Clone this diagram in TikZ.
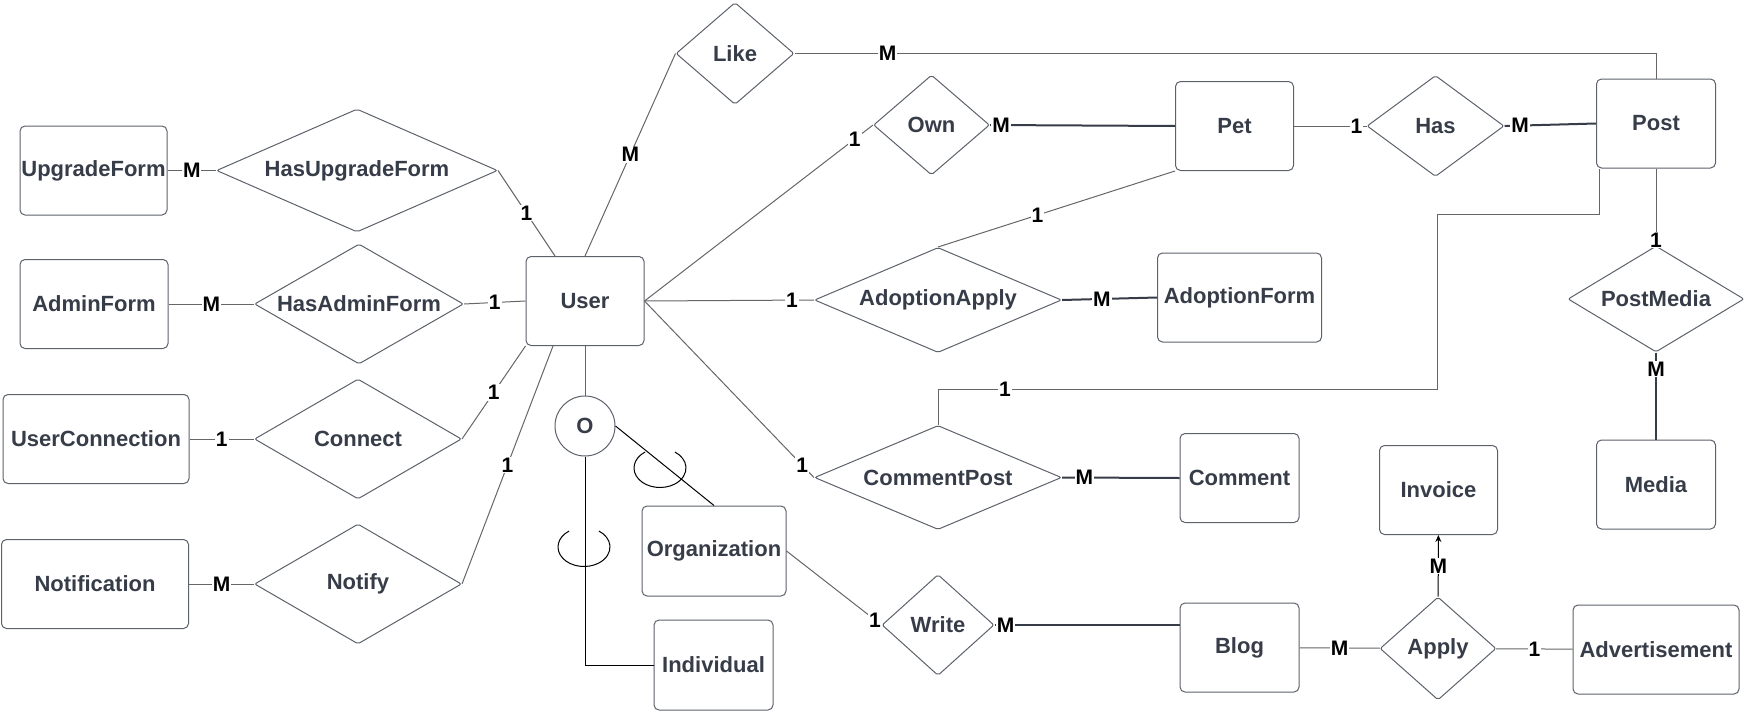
\documentclass[tikz,border=0pt]{standalone}
\usepackage{fontspec}
\setmainfont{Liberation Sans}
\usetikzlibrary{shapes.geometric,arrows.meta}
\definecolor{ink}{HTML}{363C48}
\definecolor{edge}{HTML}{5C616B}

\begin{document}
\begin{tikzpicture}[x=1pt,y=-1pt,line width=1pt,font=\fontsize{22}{26}\selectfont\bfseries,
  ent/.style={draw=edge,rounded corners=5pt,text=ink,minimum height=89pt,inner sep=0pt},
  rel/.style={draw=edge,diamond,aspect=2,rounded corners=2pt,text=ink,inner sep=0pt},
  lnk/.style={draw=black!60},
  heavy/.style={draw=ink,line width=2pt},
  card/.style={fill=white,text=black,inner sep=1pt,font=\fontsize{21}{24}\selectfont\bfseries}]
\useasboundingbox (0,0) rectangle (1747,712);
\node[ent,minimum width=147pt] (upform) at (93.5,170.5) {UpgradeForm};
\node[ent,minimum width=148pt] (adminform) at (94,304) {AdminForm};
\node[ent,minimum width=186pt] (userconn) at (96,439) {UserConnection};
\node[ent,minimum width=187pt] (notification) at (95,584) {Notification};
\node[ent,minimum width=118pt] (user) at (585,301) {User};
\node[ent,minimum width=144pt,minimum height=90pt] (org) at (714,551) {Organization};
\node[ent,minimum width=119pt,minimum height=90pt] (individual) at (713.5,665) {Individual};
\node[ent,minimum width=118pt] (pet) at (1234.5,126) {Pet};
\node[ent,minimum width=119pt] (post) at (1656,123.5) {Post};
\node[ent,minimum width=164pt] (adoptform) at (1239.5,297.5) {AdoptionForm};
\node[ent,minimum width=119pt] (comment) at (1239.5,478) {Comment};
\node[ent,minimum width=118pt] (invoice) at (1438.5,490) {Invoice};
\node[ent,minimum width=119pt] (media) at (1656,484.5) {Media};
\node[ent,minimum width=119pt] (blog) at (1239.5,647.5) {Blog};
\node[ent,minimum width=166pt] (advert) at (1656,649.5) {Advertisement};
\node[rel,minimum width=281pt,minimum height=123pt] (hasupform) at (357,170.5) {HasUpgradeForm};
\node[rel,minimum width=209pt,minimum height=120pt] (hasadmin) at (359,304) {HasAdminForm};
\node[rel,minimum width=207pt,minimum height=120pt] (connect) at (358,439) {Connect};
\node[rel,minimum width=207pt,minimum height=120pt] (notify) at (358,584) {Notify};
\node[rel,minimum width=118pt,minimum height=102pt] (like) at (735,53.5) {Like};
\node[rel,minimum width=116pt,minimum height=100pt] (own) at (931.5,125) {Own};
\node[rel,minimum width=247pt,minimum height=105pt] (adoptapply) at (938,300) {AdoptionApply};
\node[rel,minimum width=137pt,minimum height=101pt] (has) at (1435.5,126) {Has};
\node[rel,minimum width=176pt,minimum height=106pt] (postmedia) at (1656,299) {PostMedia};
\node[rel,minimum width=247pt,minimum height=104pt] (commentpost) at (938,477.5) {CommentPost};
\node[rel,minimum width=112pt,minimum height=101pt] (write) at (938,625) {Write};
\node[rel,minimum width=116pt,minimum height=103pt] (apply) at (1438,648.5) {Apply};
\node[draw=edge,circle,minimum size=60pt,inner sep=0pt,text=ink] (disj) at (585,426) {O};
\coordinate (cpbend) at (1437,389);
\coordinate (cpturn) at (1437,214);
\draw[lnk] (upform) -- node[card]{M} (hasupform);
\draw[lnk] (hasupform.east) -- node[card]{1} ([xshift=-30pt]user.north);
\draw[lnk] (user.north) -- node[card]{M} (like.west);
\draw[lnk] (adminform) -- node[card]{M} (hasadmin);
\draw[lnk] (hasadmin.east) -- node[card]{1} (user.west);
\draw[lnk] (userconn) -- node[card]{1} (connect);
\draw[lnk] (connect.east) -- node[card]{1} (user.south west);
\draw[lnk] (notification) -- node[card]{M} (notify);
\draw[lnk] (notify.east) -- node[card]{1} ([xshift=-32pt]user.south);
\draw[lnk] (user) -- (disj);
\draw[lnk,draw=black] (disj.east) -- (org.north);
\draw[lnk,draw=black] (disj.south) |- (individual.west);
\foreach \cx/\cy in {584/547,660/468}
  \draw[draw=black,shift={(\cx,\cy)}] (125:26pt and 19.5pt) arc[start angle=125,end angle=415,x radius=26pt,y radius=19.5pt];
\draw[lnk] (like.east) -| node[card,pos=.054]{M} (post.north);
\draw[lnk] (user.east) -- node[card,pos=.92]{1} (own.west);
\draw[heavy] (own.east) -- node[card,pos=.06]{M} (pet.west);
\draw[lnk] (pet.east) -- node[card,pos=.86]{1} (has.west);
\draw[heavy] (has.east) -- node[card,pos=.17]{M} (post.west);
\draw[lnk] (pet.south west) -- node[card,pos=.58]{1} (adoptapply.north);
\draw[lnk] (user.east) -- node[card,pos=.87]{1} (adoptapply.west);
\draw[heavy] (adoptapply.east) -- node[card,pos=.42]{M} (adoptform.west);
\draw[lnk] (user.east) -- node[card,pos=.93]{1} (commentpost.west);
\draw[lnk] (commentpost.north) |- node[card,pos=.567]{1} (cpbend) -- (cpturn) -| ([xshift=3pt]post.south west);
\draw[lnk] (post) -- node[card,pos=.93]{1} (postmedia);
\draw[heavy] (postmedia) -- node[card,pos=.19]{M} (media);
\draw[heavy] (commentpost.east) -- node[card,pos=.19]{M} (comment.west);
\draw[lnk] (org.east) -- node[card,pos=.93]{1} (write.west);
\draw[heavy] (write.east) -- node[card,pos=.06]{M} (write.east -| blog.west);
\draw[lnk] (blog) -- node[card]{M} (apply);
\draw[lnk] (apply) -- node[card]{1} (advert);
\draw[lnk,draw=black,-{Stealth[length=7pt,width=6pt]}] (apply) -- node[card]{M} (invoice);
\end{tikzpicture}
\end{document}
